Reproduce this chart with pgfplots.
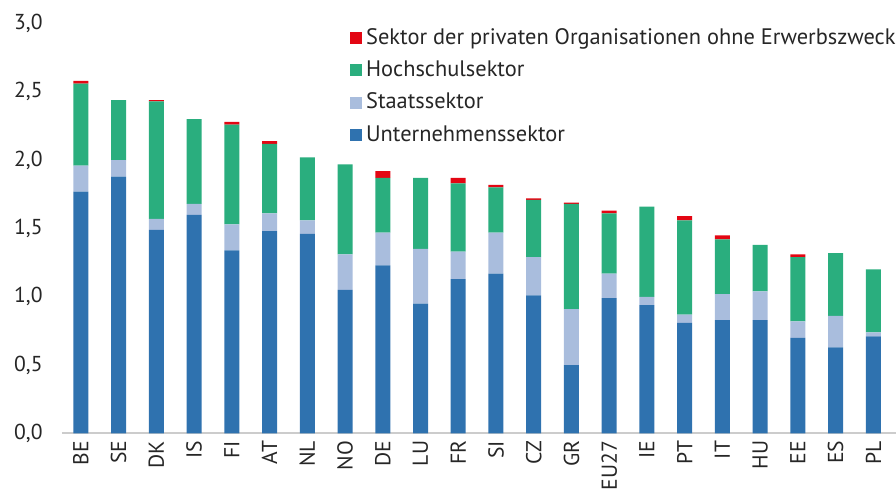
\documentclass[border=0pt]{standalone}
\usepackage{fontspec}
\setmainfont{PT Sans}
\usepackage{pgfplots}
\usepackage{pgfplotstable}
\pgfplotsset{compat=1.18}
\definecolor{cBlue}{RGB}{47,114,175}
\definecolor{cLight}{RGB}{169,189,221}
\definecolor{cGreen}{RGB}{42,174,126}
\definecolor{cRed}{RGB}{227,6,19}
\pgfplotstableread{
x lab bus gov hig pri
0 BE 1.77 0.19 0.60 0.02
1 SE 1.88 0.12 0.44 0.00
2 DK 1.49 0.08 0.86 0.01
3 IS 1.60 0.08 0.62 0.00
4 FI 1.34 0.19 0.73 0.02
5 AT 1.48 0.13 0.51 0.02
6 NL 1.46 0.10 0.46 0.00
7 NO 1.05 0.26 0.66 0.00
8 DE 1.23 0.24 0.40 0.05
9 LU 0.95 0.40 0.52 0.00
10 FR 1.13 0.20 0.50 0.04
11 SI 1.17 0.30 0.33 0.02
12 CZ 1.01 0.28 0.42 0.01
13 GR 0.50 0.41 0.77 0.01
14 EU27 0.99 0.18 0.44 0.02
15 IE 0.94 0.06 0.66 0.00
16 PT 0.81 0.06 0.69 0.03
17 IT 0.83 0.19 0.40 0.03
18 HU 0.83 0.21 0.34 0.00
19 EE 0.70 0.12 0.47 0.02
20 ES 0.63 0.23 0.46 0.00
21 PL 0.71 0.03 0.46 0.00
}\datatable
\begin{document}
\fontsize{10.5}{12}\selectfont
\begin{tikzpicture}
\useasboundingbox (-31pt,-28.75pt) rectangle (417pt,216.75pt);
\begin{axis}[
  scale only axis,
  width=417pt, height=205pt,
  at={(0,0)}, anchor=south west,
  ybar stacked, bar width=7.5pt,
  xmin=-0.5, xmax=21.6,
  ymin=0, ymax=3,
  ytick={0,0.5,1,1.5,2,2.5,3},
  xtick=data,
  xticklabels from table={\datatable}{lab},
  axis x line*=bottom,
  axis y line*=left,
  y axis line style={draw=none},
  x axis line style={draw=black!20, line width=1pt},
  major tick length=0pt,
  tick label style={font=\fontsize{10.8}{12}\selectfont, text=black!85},
  xticklabel style={rotate=90, anchor=east, xshift=0pt, yshift=0pt},
  yticklabel style={xshift=-6pt},
  /pgf/number format/assume math mode=true,
  /pgf/number format/use comma,
  /pgf/number format/fixed,
  /pgf/number format/fixed zerofill,
  /pgf/number format/precision=1,
  reverse legend,
  legend style={at={(0.345,0.998)}, anchor=north west, draw=none, fill=none,
    font=\fontsize{11.2}{12.5}\selectfont, text=black!85, row sep=2.6pt, inner sep=0pt},
  legend cell align=left,
  legend image code/.code={\fill[#1] (0pt,-3pt) rectangle (6pt,3pt);},
  every axis plot/.append style={draw=none},
]
\addplot[fill=cBlue] table[x=x,y=bus]{\datatable};
\addlegendentry{Unternehmenssektor}
\addplot[fill=cLight] table[x=x,y=gov]{\datatable};
\addlegendentry{Staatssektor}
\addplot[fill=cGreen] table[x=x,y=hig]{\datatable};
\addlegendentry{Hochschulsektor}
\addplot[fill=cRed] table[x=x,y=pri]{\datatable};
\addlegendentry{Sektor der privaten Organisationen ohne Erwerbszweck}
\end{axis}
\end{tikzpicture}
\end{document}
